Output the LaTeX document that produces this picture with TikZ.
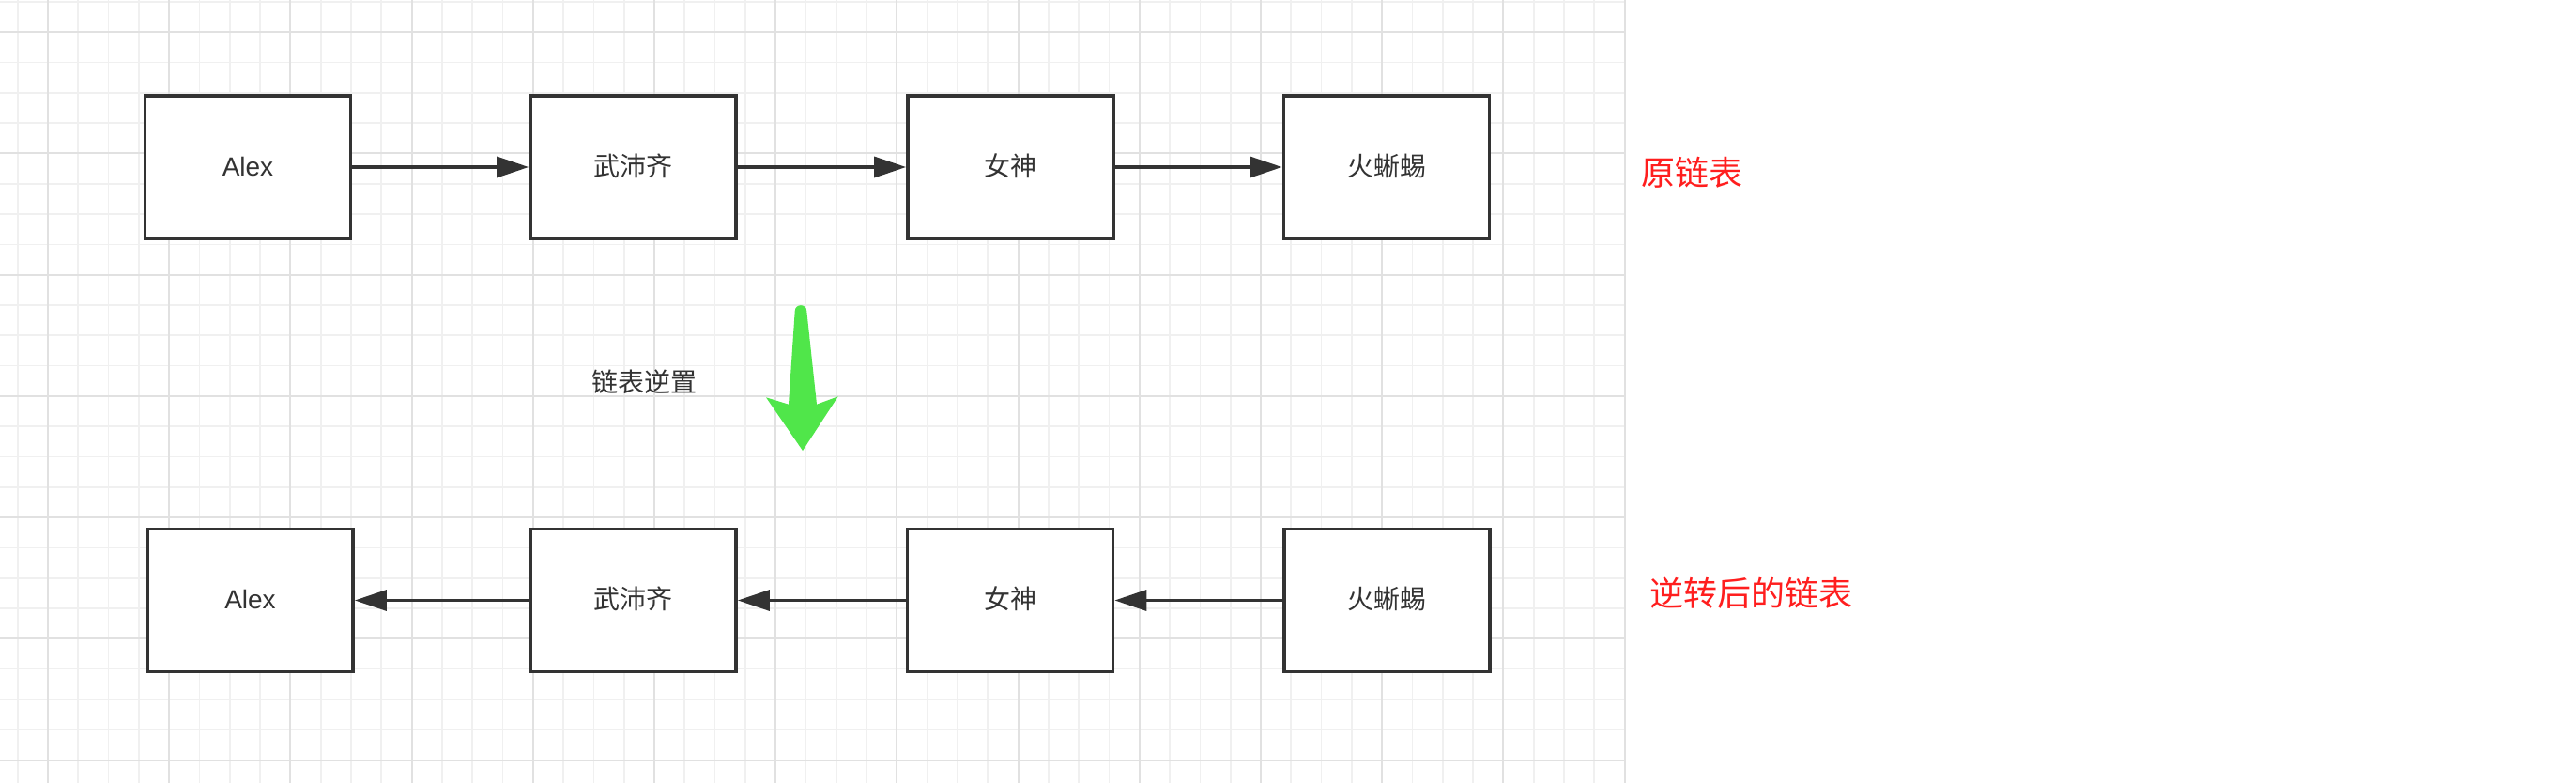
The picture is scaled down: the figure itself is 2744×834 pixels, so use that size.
\documentclass[tikz,border=0pt]{standalone}
\usepackage{fontspec}
\setmainfont{Liberation Sans}
\newfontfamily\cjk{Noto Sans CJK SC}
\usetikzlibrary{arrows.meta}
\definecolor{gridminor}{RGB}{240,240,240}
\definecolor{gridmajor}{RGB}{225,225,225}
\definecolor{ink}{RGB}{51,51,51}
\definecolor{redtxt}{RGB}{255,30,30}
\definecolor{greenarr}{RGB}{80,230,74}
\tikzset{
  nodebox/.style={draw=ink, line width=1.9pt, fill=white, minimum width=109.5pt, minimum height=76pt, inner sep=0pt, text height=1em, text depth=0.08em, text=ink, font=\fontsize{14}{16}\selectfont},
  cjkbox/.style={nodebox, font=\cjk\fontsize{14}{16}\selectfont},
  linkarrow/.style={draw=ink, line width=1.7pt, -{Triangle[length=17pt,width=11pt]}},
  plainlbl/.style={inner sep=0pt, text=ink, font=\cjk\fontsize{14}{16}\selectfont},
  redlbl/.style={inner sep=0pt, text=redtxt, font=\cjk\fontsize{18}{20}\selectfont},
}
\begin{document}
\begin{tikzpicture}[x=0.5pt,y=-0.5pt]
\useasboundingbox (0,0) rectangle (2744,834);
\fill[white] (0,0) rectangle (2744,834);
% grid minor
\foreach \i in {0,...,53} {
  \pgfmathsetmacro\gx{18.7+32.3*\i}
  \draw[gridminor, line width=0.85pt] (\gx,0) -- (\gx,834);
}
\foreach \j in {0,...,25} {
  \pgfmathsetmacro\gy{2.0+32.3*\j}
  \draw[gridminor, line width=0.85pt] (0,\gy) -- (1730.6,\gy);
}
% grid major
\foreach \k in {0,...,13} {
  \pgfmathsetmacro\gx{51+129.2*\k}
  \draw[gridmajor, line width=1pt] (\gx,0) -- (\gx,834);
}
\foreach \k in {0,...,6} {
  \pgfmathsetmacro\gy{34.3+129.2*\k}
  \draw[gridmajor, line width=1pt] (0,\gy) -- (1730.6,\gy);
}
% top row
\node[nodebox] (a1) at (264,178) {Alex};
\node[cjkbox] (b1) at (674.5,178) {武沛齐};
\node[cjkbox] (c1) at (1076.5,178) {女神};
\node[cjkbox] (d1) at (1477,178) {火蜥蜴};
\draw[linkarrow] (a1) -- (b1);
\draw[linkarrow] (b1) -- (c1);
\draw[linkarrow] (c1) -- (d1);
% bottom row
\node[nodebox] (a2) at (266.5,639.5) {Alex};
\node[cjkbox] (b2) at (674.5,639.5) {武沛齐};
\node[cjkbox] (c2) at (1076,639.5) {女神};
\node[cjkbox] (d2) at (1477.5,639.5) {火蜥蜴};
\draw[linkarrow] (d2) -- (c2);
\draw[linkarrow] (c2) -- (b2);
\draw[linkarrow] (b2) -- (a2);
% labels
\node[plainlbl] (rev) at (686,406.7) {链表逆置};
\node[redlbl] (orig) at (1802,183.5) {原链表};
\node[redlbl] (after) at (1865.5,632) {逆转后的链表};
% green arrow
\fill[greenarr] (846.7,331.5) -- (840,430.7) -- (816,423.3) -- (855,480) -- (892.7,422.3) -- (870,430.7) -- (859.3,331.5)
  .. controls (859.3,323.1) and (846.7,323.1) .. cycle;
\end{tikzpicture}
\end{document}
